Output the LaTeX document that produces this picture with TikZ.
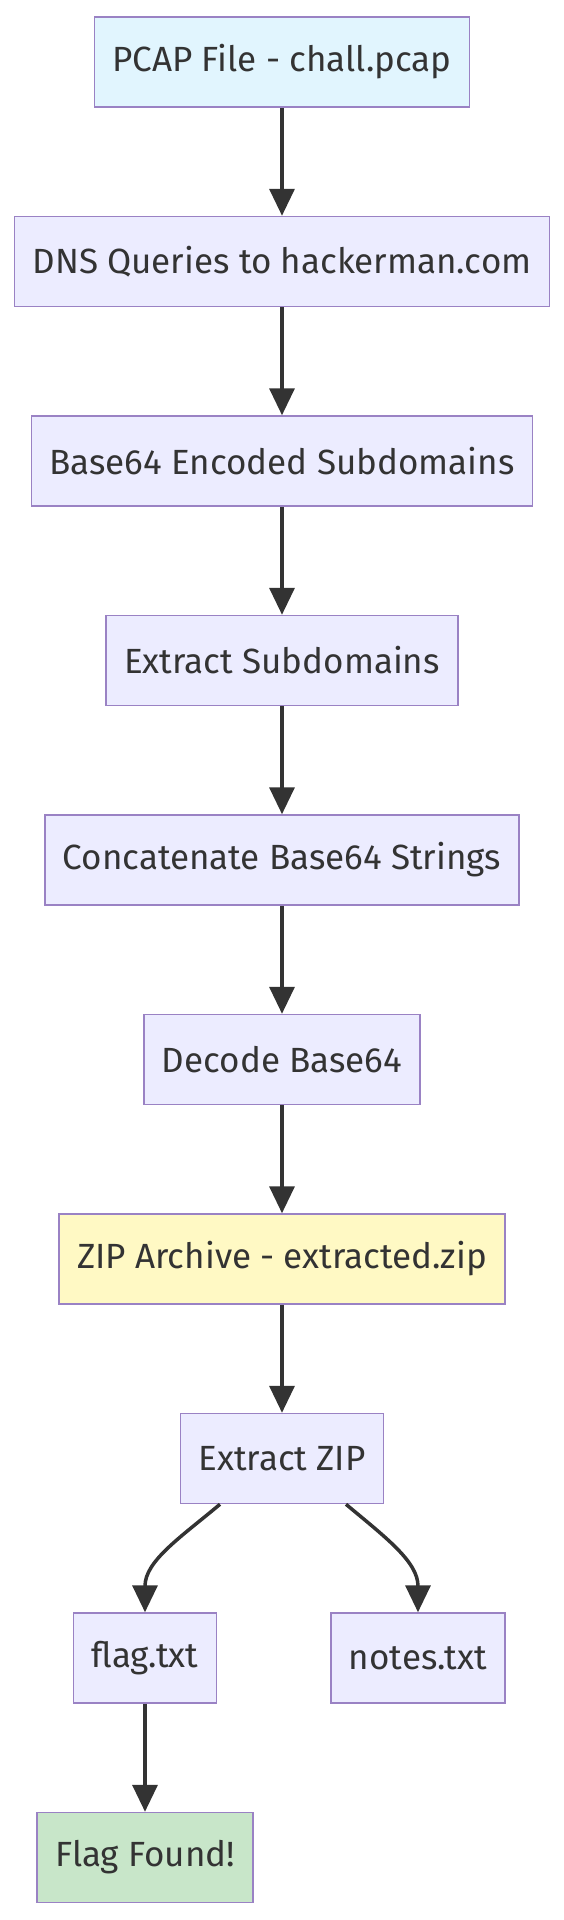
\documentclass[tikz,border=0pt]{standalone}
\usepackage{fontspec}
\setmainfont{Fira Sans}
\usetikzlibrary{positioning,arrows.meta}
\definecolor{boxfill}{HTML}{ECECFF}
\definecolor{boxline}{HTML}{9A82C4}
\definecolor{pcapfill}{HTML}{E1F5FE}
\definecolor{zipfill}{HTML}{FFF9C4}
\definecolor{flagfill}{HTML}{C8E6C9}
\definecolor{ink}{HTML}{333333}

\begin{document}
\begin{tikzpicture}[x=1pt,y=1pt]
	\tikzstyle{every node}+=[inner xsep=18pt, inner ysep=0pt, minimum height=90pt, font=\fontsize{35}{42}\selectfont, text=ink]
	\tikzstyle{stage}=[draw=boxline, line width=1.5pt, fill=boxfill]
	\tikzstyle{link}=[draw=ink, line width=3.5pt, -{Triangle[length=27pt,width=25pt]}]
	\useasboundingbox (-282,62) rectangle (282,-1858);
	\node [stage, fill=pcapfill] (pcap) at (0,0) {PCAP File - chall.pcap};
	\node [stage, below=108pt of pcap] (dns) {DNS Queries to hackerman.com};
	\node [stage, below=108pt of dns] (enc) {Base64 Encoded Subdomains};
	\node [stage, below=108pt of enc] (ext) {Extract Subdomains};
	\node [stage, below=108pt of ext] (cat) {Concatenate Base64 Strings};
	\node [stage, below=108pt of cat] (dec) {Decode Base64};
	\node [stage, fill=zipfill, below=108pt of dec] (zip) {ZIP Archive - extracted.zip};
	\node [stage, below=108pt of zip] (ez) {Extract ZIP};
	\node [stage, below=108pt of ez, xshift=-137pt] (flag) {flag.txt};
	\node [stage, below=108pt of ez, xshift=136pt] (notes) {notes.txt};
	\node [stage, fill=flagfill, below=108pt of flag] (found) {Flag Found!};
	\draw [link] (pcap) -- (dns);
	\draw [link] (dns) -- (enc);
	\draw [link] (enc) -- (ext);
	\draw [link] (ext) -- (cat);
	\draw [link] (cat) -- (dec);
	\draw [link] (dec) -- (zip);
	\draw [link] (zip) -- (ez);
	\draw [link] ([xshift=-62pt]ez.south) to[out=-140,in=90] (flag.north);
	\draw [link] ([xshift=64pt]ez.south) to[out=-40,in=90] (notes.north);
	\draw [link] (flag) -- (found);
\end{tikzpicture}
\end{document}
